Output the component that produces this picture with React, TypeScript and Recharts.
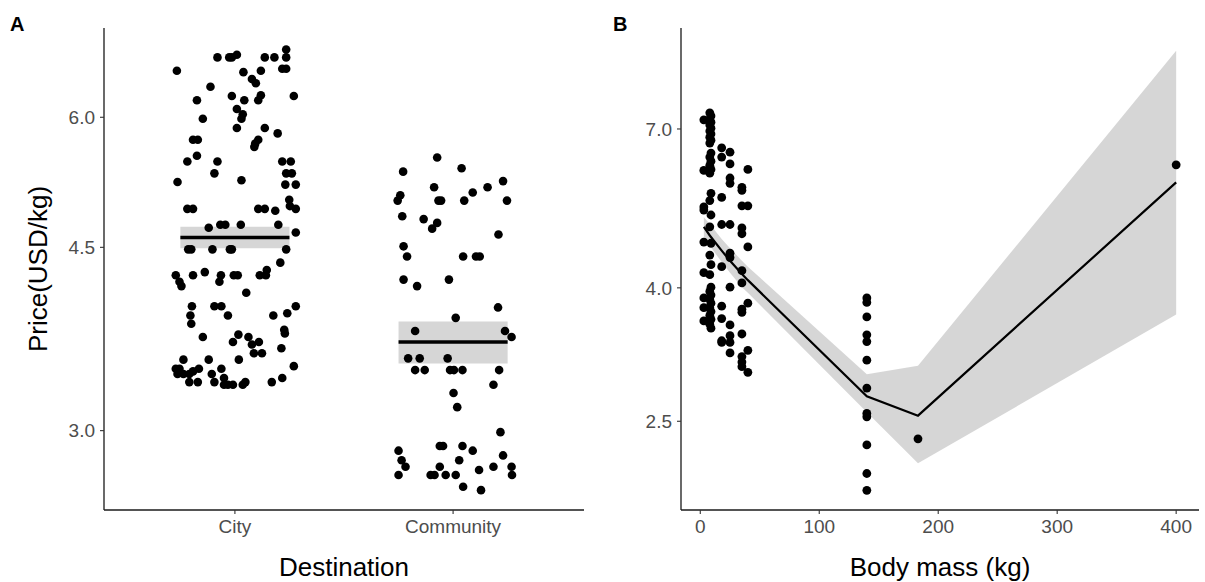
import {
  ComposedChart, Scatter, XAxis, YAxis, ReferenceArea, ReferenceLine, Area, Line,
} from "recharts";

const FONT = "Arial, 'Liberation Sans', Helvetica, sans-serif";

/* ── Panel A data ─────────────────────────────────────────────────────── */
const destinations = ["City", "Community"];
const destTicks = [1, 2];
const priceTicksA = [3, 4.5, 6];

// crossbar: mean and interval per destination
const destMean = [4.6, 3.65];
const destLow = [4.49, 3.48];
const destHigh = [4.71, 3.82];

// [jittered position, price]
const cityPoints = [
  [0.734, 6.65], [0.92, 6.85], [0.974, 6.85], [0.986, 6.85], [1.009, 6.89], [1.137, 6.85],
  [1.181, 6.85], [1.235, 6.97], [1.235, 6.85], [1.039, 6.63], [1.119, 6.65], [1.217, 6.68],
  [1.235, 6.68], [0.888, 6.42], [1.078, 6.53], [1.096, 6.47], [0.826, 6.23], [0.986, 6.29],
  [1.043, 6.23], [1.107, 6.23], [1.119, 6.3], [1.27, 6.29], [0.853, 5.98], [1.009, 6.11],
  [1.036, 6.04], [1.03, 5.98], [1.009, 5.86], [1.137, 5.86], [1.196, 5.79], [0.808, 5.71],
  [0.83, 5.71], [0.826, 5.51], [0.782, 5.44], [1.107, 5.71], [1.093, 5.66], [1.089, 5.62],
  [0.92, 5.44], [0.906, 5.3], [1.217, 5.44], [1.256, 5.44], [1.235, 5.3], [1.261, 5.3],
  [1.231, 5.17], [1.279, 5.17], [0.737, 5.2], [1.03, 5.22], [0.782, 4.9], [0.808, 4.9],
  [1.107, 4.9], [1.137, 4.9], [1.185, 4.88], [1.249, 5.0], [1.252, 4.93], [1.279, 4.9],
  [0.88, 4.7], [0.933, 4.73], [0.956, 4.73], [1.027, 4.73], [1.199, 4.73], [1.279, 4.65],
  [0.786, 4.48], [0.8, 4.48], [0.897, 4.48], [0.977, 4.48], [0.986, 4.48], [1.235, 4.48],
  [1.208, 4.35], [0.729, 4.23], [0.746, 4.17], [0.755, 4.13], [0.808, 4.23], [0.862, 4.26],
  [0.936, 4.23], [0.929, 4.17], [0.995, 4.23], [1.013, 4.23], [1.114, 4.23], [1.146, 4.28],
  [1.142, 4.23], [1.052, 4.07], [0.803, 3.95], [0.796, 3.87], [0.8, 3.8], [0.906, 3.95],
  [0.938, 3.95], [0.968, 3.87], [1.176, 3.87], [1.24, 3.89], [1.279, 3.95], [0.853, 3.69],
  [1.226, 3.75], [1.229, 3.72], [1.213, 3.6], [1.016, 3.71], [0.991, 3.65], [1.062, 3.69],
  [1.078, 3.63], [1.11, 3.65], [1.087, 3.56], [1.124, 3.56], [0.764, 3.51], [0.88, 3.51],
  [1.018, 3.51], [0.729, 3.44], [0.746, 3.44], [0.737, 3.4], [0.764, 3.4], [0.791, 3.4],
  [0.808, 3.42], [0.835, 3.44], [0.791, 3.34], [0.83, 3.34], [0.894, 3.4], [0.906, 3.34],
  [0.938, 3.44], [0.95, 3.37], [0.95, 3.32], [0.968, 3.32], [0.991, 3.32], [1.036, 3.32],
  [1.048, 3.34], [1.169, 3.34], [1.217, 3.37], [1.27, 3.46],
];

const communityPoints = [
  [1.927, 5.49], [2.039, 5.36], [1.771, 5.32], [2.229, 5.21], [1.913, 5.14], [2.158, 5.14],
  [2.09, 5.08], [1.758, 5.05], [1.746, 4.99], [1.933, 4.99], [1.945, 4.99], [2.051, 4.99],
  [2.247, 4.99], [1.767, 4.82], [1.865, 4.79], [1.927, 4.75], [1.904, 4.69], [2.208, 4.63],
  [1.773, 4.51], [1.789, 4.41], [2.046, 4.41], [2.105, 4.41], [2.122, 4.41], [1.773, 4.19],
  [1.835, 4.13], [1.981, 4.19], [2.206, 3.94], [2.012, 3.85], [1.826, 3.74], [2.238, 3.74],
  [2.268, 3.69], [1.794, 3.52], [1.847, 3.52], [1.975, 3.52], [1.826, 3.43], [1.87, 3.43],
  [1.986, 3.43], [2.004, 3.43], [2.043, 3.43], [2.211, 3.43], [2.185, 3.32], [2.002, 3.26],
  [2.019, 3.16], [2.217, 2.99], [1.75, 2.87], [1.939, 2.9], [1.954, 2.9], [2.043, 2.9],
  [2.09, 2.87], [1.764, 2.81], [1.782, 2.77], [2.028, 2.81], [2.229, 2.84], [1.939, 2.77],
  [2.185, 2.77], [2.268, 2.77], [1.75, 2.72], [1.897, 2.72], [1.915, 2.72], [1.966, 2.72],
  [2.012, 2.72], [2.119, 2.75], [2.27, 2.72], [2.046, 2.65], [2.128, 2.63],
];

/* ── Panel B data ─────────────────────────────────────────────────────── */
const massTicks = [0, 100, 200, 300, 400];
const priceTicksB = [2.5, 4, 7];

// [body mass, price]
const bodyMassPoints = [
  [3, 7.23], [3, 6.05], [3, 5.32], [3, 5.26], [3, 4.7], [3, 4.22], [3, 3.86], [3, 3.73], [3, 3.56],
  [8, 7.41], [9, 7.33], [8, 7.25], [9, 7.17], [8, 7.1], [9, 7.02], [8, 6.95], [9, 6.88],
  [8, 6.8], [9, 6.73], [8, 6.66], [9, 6.43], [8, 6.34], [9, 6.25], [8, 6.16], [9, 6.07],
  [8, 5.99], [9, 5.58], [8, 5.44], [9, 5.17], [8, 4.96], [9, 4.68], [8, 4.49], [9, 4.34],
  [8, 4.19], [9, 4.01], [8, 3.95], [9, 3.9], [8, 3.84], [9, 3.79], [8, 3.73], [9, 3.68],
  [8, 3.63], [9, 3.58], [8, 3.52], [9, 3.47],
  [18, 6.55], [18, 6.34], [18, 5.5], [18, 5.0], [18, 4.31], [18, 3.75], [18, 3.59], [18, 3.32], [18, 3.3],
  [25, 6.45], [25, 6.19], [25, 5.89], [25, 5.78], [25, 5.0], [25, 4.52], [25, 4.45], [25, 4.01],
  [25, 3.51], [25, 3.38], [25, 3.3], [25, 3.18],
  [35, 5.7], [35, 5.64], [35, 5.34], [35, 4.94], [35, 4.84], [35, 4.25], [35, 4.07], [35, 3.71],
  [35, 3.67], [35, 3.4], [35, 3.14], [35, 3.08], [35, 3.03],
  [40, 6.07], [40, 5.34], [40, 4.62], [40, 3.79], [40, 3.21], [40, 2.97],
  [140, 3.86], [140, 3.8], [140, 3.61], [140, 3.39], [140, 3.31], [140, 3.1], [140, 2.81],
  [140, 2.57], [140, 2.54], [140, 2.3], [140, 2.08], [140, 1.96],
  [183, 2.35],
  [400, 6.17],
];

// fitted curve and its confidence band
const fitMass = [3, 8, 18, 25, 35, 40, 140, 183, 400];
const fitPrice = [4.96, 4.81, 4.56, 4.4, 4.2, 4.11, 2.73, 2.55, 5.8];
const fitLow = [4.79, 4.64, 4.38, 4.22, 4.01, 3.93, 2.58, 2.156, 3.64];
const fitHigh = [5.13, 5.01, 4.75, 4.6, 4.4, 4.31, 2.95, 3.04, 9.22];

/* ── helpers ───────────────────────────────────────────────────────────── */
const axisLine = { stroke: "#1a1a1a", strokeWidth: 1.3 };
const tickLine = { stroke: "#333333", strokeWidth: 1.1 };
const tick = { fill: "#4d4d4d", fontSize: 19, fontFamily: FONT };

const dot = (r: number) => (p: any) => <circle cx={p.cx} cy={p.cy} r={r} fill="#000" />;

const cityData = cityPoints.map(([x, y]) => ({ x, y }));
const communityData = communityPoints.map(([x, y]) => ({ x, y }));
const massData = bodyMassPoints.map(([x, y]) => ({ x, y }));
const fitData = fitMass.map((m, i) => ({ x: m, fit: fitPrice[i], band: [fitLow[i], fitHigh[i]] }));

function PanelA() {
  return (
    <ComposedChart width={600} height={582} margin={{ top: 28, right: 16, bottom: 0, left: 0 }}>
      <XAxis
        type="number"
        dataKey="x"
        domain={[0.4, 2.6]}
        allowDataOverflow
        ticks={destTicks}
        interval={0}
        tickFormatter={(v) => destinations[v - 1]}
        height={72}
        tickSize={4}
        tickMargin={6}
        axisLine={axisLine}
        tickLine={tickLine}
        tick={tick}
      />
      <YAxis
        type="number"
        scale="log"
        domain={[2.517, 7.31]}
        allowDataOverflow
        ticks={priceTicksA}
        interval={0}
        tickFormatter={(v) => v.toFixed(1)}
        width={104}
        tickSize={4}
        tickMargin={5}
        axisLine={axisLine}
        tickLine={tickLine}
        tick={tick}
      />
      <Scatter data={cityData} dataKey="y" shape={dot(4.3)} isAnimationActive={false} />
      <Scatter data={communityData} dataKey="y" shape={dot(4.3)} isAnimationActive={false} />
      {destMean.map((m, i) => (
        <ReferenceArea
          key={"a" + i}
          x1={destTicks[i] - 0.25}
          x2={destTicks[i] + 0.25}
          y1={destLow[i]}
          y2={destHigh[i]}
          fill="#999999"
          fillOpacity={0.4}
          stroke="none"
        />
      ))}
      {destMean.map((m, i) => (
        <ReferenceLine
          key={"l" + i}
          segment={[{ x: destTicks[i] - 0.25, y: m }, { x: destTicks[i] + 0.25, y: m }]}
          stroke="#000"
          strokeWidth={3.5}
        />
      ))}
    </ComposedChart>
  );
}

function PanelB() {
  return (
    <ComposedChart width={605} height={582} data={fitData} margin={{ top: 28, right: 6, bottom: 0, left: 0 }}>
      <XAxis
        type="number"
        dataKey="x"
        domain={[-16.2, 419.2]}
        allowDataOverflow
        ticks={massTicks}
        interval={0}
        height={72}
        tickSize={4}
        tickMargin={6}
        axisLine={axisLine}
        tickLine={tickLine}
        tick={tick}
      />
      <YAxis
        type="number"
        scale="log"
        domain={[1.829, 9.99]}
        allowDataOverflow
        ticks={priceTicksB}
        interval={0}
        tickFormatter={(v) => v.toFixed(1)}
        width={81}
        tickSize={4}
        tickMargin={5}
        axisLine={axisLine}
        tickLine={tickLine}
        tick={tick}
      />
      <Scatter data={massData} dataKey="y" shape={dot(4.4)} isAnimationActive={false} />
      <Area
        type="linear"
        dataKey="band"
        fill="#999999"
        fillOpacity={0.4}
        stroke="none"
        isAnimationActive={false}
      />
      <Line
        type="linear"
        dataKey="fit"
        stroke="#000"
        strokeWidth={2.2}
        dot={false}
        isAnimationActive={false}
      />
    </ComposedChart>
  );
}

export default function App() {
  return (
    <div style={{ position: "absolute", left: 0, top: 0, width: 1205, height: 582, background: "#fff" }}>
      <div style={{ position: "absolute", left: 0, top: 0 }}>
        <PanelA />
      </div>
      <div style={{ position: "absolute", left: 600, top: 0 }}>
        <PanelB />
      </div>
      <svg
        width={1205}
        height={582}
        style={{ position: "absolute", left: 0, top: 0, pointerEvents: "none" }}
        fontFamily={FONT}
      >
        <text x={10} y={31} fontSize={20} fontWeight="bold" fill="#000">A</text>
        <text x={613} y={31} fontSize={20} fontWeight="bold" fill="#000">B</text>
        <text x={344} y={576} fontSize={26} textAnchor="middle" fill="#000">Destination</text>
        <text x={940} y={576} fontSize={26} textAnchor="middle" fill="#000">Body mass (kg)</text>
        <text transform="translate(47,269) rotate(-90)" fontSize={26} textAnchor="middle" fill="#000">
          Price(USD/kg)
        </text>
      </svg>
    </div>
  );
}
